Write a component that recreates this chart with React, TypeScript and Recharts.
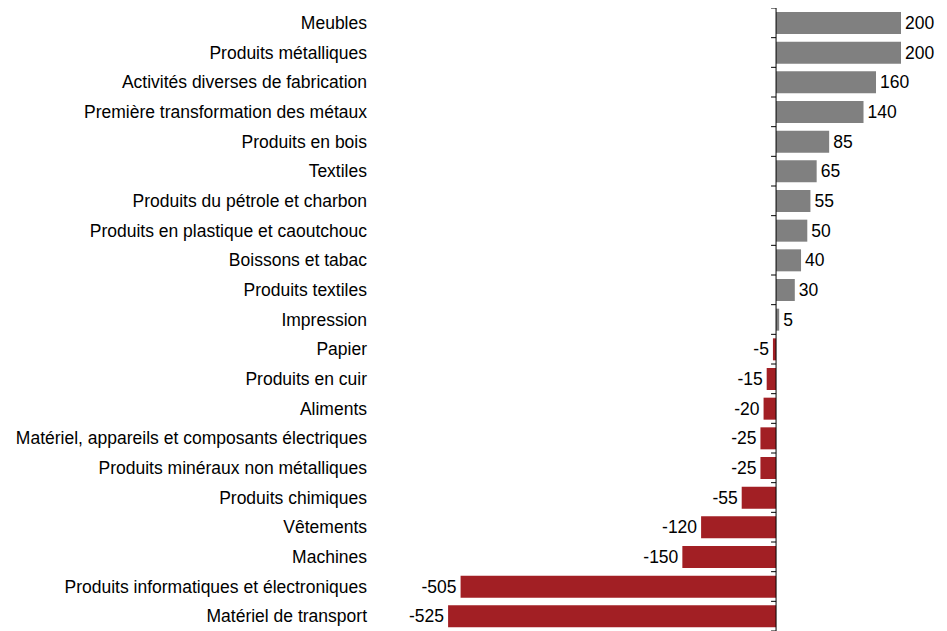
import { BarChart, Bar, XAxis, YAxis, Cell, LabelList, ReferenceLine } from "recharts";

const categories = [
  "Meubles",
  "Produits métalliques",
  "Activités diverses de fabrication",
  "Première transformation des métaux",
  "Produits en bois",
  "Textiles",
  "Produits du pétrole et charbon",
  "Produits en plastique et caoutchouc",
  "Boissons et tabac",
  "Produits textiles",
  "Impression",
  "Papier",
  "Produits en cuir",
  "Aliments",
  "Matériel, appareils et composants électriques",
  "Produits minéraux non métalliques",
  "Produits chimiques",
  "Vêtements",
  "Machines",
  "Produits informatiques et électroniques",
  "Matériel de transport",
];

const values = [200, 200, 160, 140, 85, 65, 55, 50, 40, 30, 5, -5, -15, -20, -25, -25, -55, -120, -150, -505, -525];

const data = categories.map((name, i) => ({ name, value: values[i] }));

const FONT = "'Liberation Sans', Arial, sans-serif";

// zero axis with small tick marks between the categories
function ZeroAxis(props: any) {
  const { x1, y1, y2 } = props;
  const n = categories.length;
  const step = (y2 - y1) / n;
  const ticks = [];
  for (let i = 0; i <= n; i++) {
    const y = y1 + i * step;
    ticks.push(<line key={i} x1={x1 - 5} x2={x1} y1={y} y2={y} stroke="#000" strokeWidth={1} />);
  }
  return (
    <g>
      <line x1={x1} x2={x1} y1={y1} y2={y2} stroke="#000" strokeWidth={1} />
      {ticks}
    </g>
  );
}

function ValueLabel(props: any) {
  const { x, y, width, height, value } = props;
  const left = Math.min(x, x + width);
  const right = Math.max(x, x + width);
  const pos = value >= 0;
  return (
    <text
      x={pos ? right + 4 : left - 4}
      y={y + height / 2}
      textAnchor={pos ? "start" : "end"}
      dominantBaseline="central"
      fontFamily={FONT}
      fontSize={17.5}
      fill="#000"
    >
      {value}
    </text>
  );
}

export default function App() {
  return (
    <BarChart
      width={939}
      height={623}
      data={data}
      layout="vertical"
      margin={{ top: 0, right: 46, bottom: 0, left: 0 }}
      barSize={22}
    >
      <XAxis type="number" domain={[-650, 200]} hide />
      <YAxis
        type="category"
        dataKey="name"
        width={362}
        axisLine={false}
        tickLine={false}
        tickSize={0}
        tickMargin={3}
        interval={0}
        tick={{ fill: "#000", fontSize: 17.5, fontFamily: FONT }}
      />
      <Bar dataKey="value" isAnimationActive={false}>
        {data.map((d, i) => (
          <Cell key={i} fill={d.value >= 0 ? "#808080" : "#A21F24"} />
        ))}
        <LabelList dataKey="value" content={<ValueLabel />} />
      </Bar>
      <ReferenceLine x={0} shape={<ZeroAxis />} ifOverflow="visible" />
    </BarChart>
  );
}
